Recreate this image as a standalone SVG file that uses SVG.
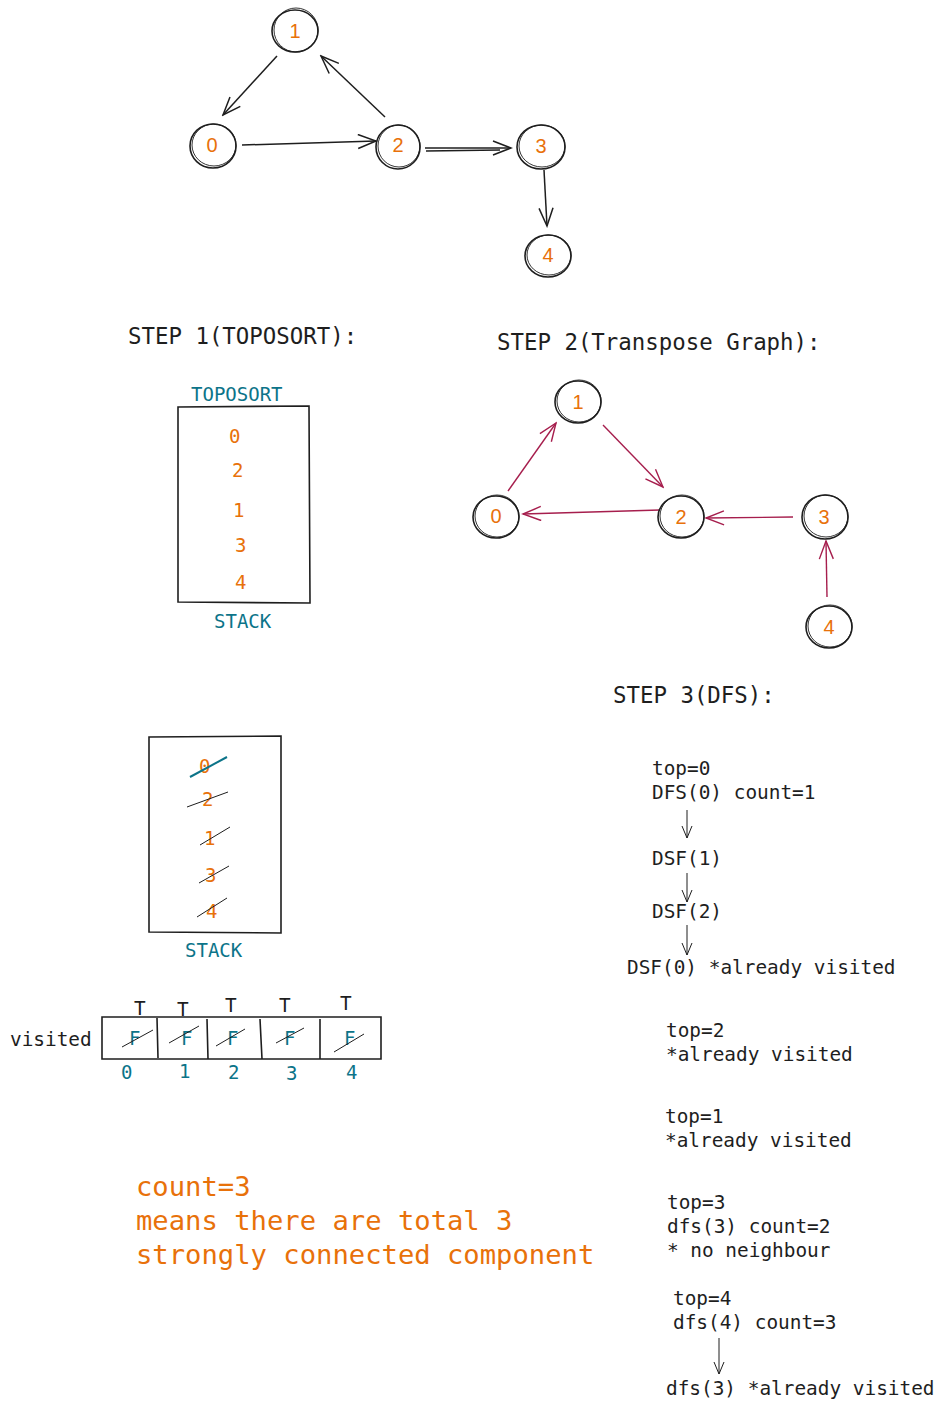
<svg xmlns="http://www.w3.org/2000/svg" width="947" height="1408" viewBox="0 0 947 1408">
<defs>
<style>
.n{fill:none;stroke:#1e1e1e;stroke-width:1.6}
.n2{fill:none;stroke:#1e1e1e;stroke-width:0.9}
.lbl{font-family:"Liberation Sans",sans-serif;font-size:20px;fill:#e8710a;text-anchor:middle}
.m{font-family:"DejaVu Sans Mono","Liberation Mono",monospace;font-size:19.4px;fill:#1e1e1e}
.h{font-family:"DejaVu Sans Mono","Liberation Mono",monospace;font-size:22.4px;fill:#1e1e1e}
.t{font-family:"DejaVu Sans Mono","Liberation Mono",monospace;font-size:19px;fill:#0c7489}
.o{font-family:"DejaVu Sans Mono","Liberation Mono",monospace;font-size:19px;fill:#e8710a}
.big{font-family:"DejaVu Sans Mono","Liberation Mono",monospace;font-size:27.2px;fill:#e8710a}
.e{fill:none;stroke:#1e1e1e;stroke-width:1.5}
.p{fill:none;stroke:#a61e4d;stroke-width:1.4}
.thin{fill:none;stroke:#1e1e1e;stroke-width:1}
.box{fill:none;stroke:#1e1e1e;stroke-width:1.6}
</style>
<marker id="ab" markerWidth="22" markerHeight="16" refX="20" refY="8" orient="auto" markerUnits="userSpaceOnUse"><path d="M2,1 L20,8 L2,15" fill="none" stroke="#1e1e1e" stroke-width="1.5"/></marker>
<marker id="ap" markerWidth="22" markerHeight="16" refX="20" refY="8" orient="auto" markerUnits="userSpaceOnUse"><path d="M2,1 L20,8 L2,15" fill="none" stroke="#a61e4d" stroke-width="1.4"/></marker>
<marker id="as" markerWidth="14" markerHeight="12" refX="13" refY="6" orient="auto" markerUnits="userSpaceOnUse"><path d="M1,1 L13,6 L1,11" fill="none" stroke="#1e1e1e" stroke-width="1"/></marker>
</defs>

<!-- Top graph -->
<g id="g1-connectors">
<path class="e" d="M277,56 L223,115" marker-end="url(#ab)"/>
<path class="e" d="M385,117 L321,56" marker-end="url(#ab)"/>
<path class="e" d="M242,145 L376,141" marker-end="url(#ab)"/>
<path class="e" d="M425,148 L511,148" marker-end="url(#ab)"/>
<path class="e" d="M426,151 L500,150"/>
<path class="e" d="M544,170 L547,226" marker-end="url(#ab)"/>
</g>
<g id="g1-n1"><ellipse class="n" cx="295" cy="31" rx="23" ry="21"/><ellipse class="n2" cx="296" cy="30" rx="22" ry="22"/><text class="lbl" x="295" y="38">1</text></g>
<g id="g1-n0"><ellipse class="n" cx="213" cy="146" rx="23" ry="22"/><ellipse class="n2" cx="214" cy="145" rx="22" ry="21"/><text class="lbl" x="212" y="152">0</text></g>
<g id="g1-n2"><ellipse class="n" cx="398" cy="147" rx="22" ry="22"/><ellipse class="n2" cx="399" cy="146" rx="21" ry="21"/><text class="lbl" x="398" y="152">2</text></g>
<g id="g1-n3"><ellipse class="n" cx="541" cy="147" rx="24" ry="22"/><ellipse class="n2" cx="542" cy="146" rx="23" ry="21"/><text class="lbl" x="541" y="153">3</text></g>
<g id="g1-n4"><ellipse class="n" cx="548" cy="256" rx="23" ry="21"/><ellipse class="n2" cx="549" cy="255" rx="22" ry="20"/><text class="lbl" x="548" y="262">4</text></g>

<!-- Step 1 -->
<text class="h" x="128" y="344">STEP 1(TOPOSORT):</text>
<g id="stack1">
<text class="t" x="191" y="401">TOPOSORT</text>
<path class="box" d="M178,407 L309,406 L310,603 L178,602 Z"/>
<text class="o" x="229" y="443">0</text>
<text class="o" x="232" y="477">2</text>
<text class="o" x="233" y="517">1</text>
<text class="o" x="235" y="552">3</text>
<text class="o" x="235" y="589">4</text>
<text class="t" x="214" y="628">STACK</text>
</g>

<!-- Step 2 -->
<text class="h" x="497" y="350">STEP 2(Transpose Graph):</text>
<g id="g2-connectors">
<path class="p" d="M508,491 L556,423" marker-end="url(#ap)"/>
<path class="p" d="M603,425 L663,487" marker-end="url(#ap)"/>
<path class="p" d="M660,510 L523,514" marker-end="url(#ap)"/>
<path class="p" d="M793,517 L706,518" marker-end="url(#ap)"/>
<path class="p" d="M827,597 L826,541" marker-end="url(#ap)"/>
</g>
<g id="g2-n1"><ellipse class="n" cx="578" cy="402" rx="23" ry="21"/><ellipse class="n2" cx="579" cy="401" rx="22" ry="21"/><text class="lbl" x="578" y="409">1</text></g>
<g id="g2-n0"><ellipse class="n" cx="496" cy="517" rx="23" ry="21"/><ellipse class="n2" cx="497" cy="516" rx="22" ry="21"/><text class="lbl" x="496" y="523">0</text></g>
<g id="g2-n2"><ellipse class="n" cx="681" cy="517" rx="23" ry="21"/><ellipse class="n2" cx="682" cy="516" rx="22" ry="21"/><text class="lbl" x="681" y="524">2</text></g>
<g id="g2-n3"><ellipse class="n" cx="825" cy="517" rx="23" ry="22"/><ellipse class="n2" cx="826" cy="516" rx="22" ry="21"/><text class="lbl" x="824" y="524">3</text></g>
<g id="g2-n4"><ellipse class="n" cx="829" cy="627" rx="23" ry="21"/><ellipse class="n2" cx="830" cy="626" rx="22" ry="21"/><text class="lbl" x="829" y="634">4</text></g>

<!-- Step 3 -->
<text class="h" x="613" y="703">STEP 3(DFS):</text>

<g id="stack2">
<path class="box" d="M149,737 L281,736 L281,933 L149,932 Z"/>
<text class="o" x="199" y="773">0</text>
<text class="o" x="202" y="806">2</text>
<text class="o" x="204" y="845">1</text>
<text class="o" x="205" y="882">3</text>
<text class="o" x="206" y="918">4</text>
<path d="M190,777 L227,757" stroke="#0c7489" stroke-width="2" fill="none"/>
<path class="thin" d="M187,807 L228,792"/>
<path class="thin" d="M200,845 L230,827"/>
<path class="thin" d="M199,883 L229,866"/>
<path class="thin" d="M197,917 L227,898"/>
<text class="t" x="185" y="957">STACK</text>
</g>

<g id="visited">
<text class="m" x="10" y="1046">visited</text>
<path class="box" d="M102,1017 L381,1017 L381,1059 L102,1059 Z"/>
<path class="box" d="M157,1018 L158,1058 M207,1019 L208,1059 M260,1019 L262,1059 M320,1019 L320,1059"/>
<text class="t" x="129" y="1045">F</text>
<text class="t" x="181" y="1045">F</text>
<text class="t" x="227" y="1045">F</text>
<text class="t" x="284" y="1045">F</text>
<text class="t" x="344" y="1045">F</text>
<path class="thin" d="M122,1047 L153,1030 M169,1043 L199,1026 M216,1046 L245,1029 M276,1043 L304,1028 M334,1052 L364,1034"/>
<text class="m" x="134" y="1015">T</text>
<text class="m" x="177" y="1016">T</text>
<text class="m" x="225" y="1012">T</text>
<text class="m" x="279" y="1012">T</text>
<text class="m" x="340" y="1010">T</text>
<text class="t" x="121" y="1079">0</text>
<text class="t" x="179" y="1078">1</text>
<text class="t" x="228" y="1079">2</text>
<text class="t" x="286" y="1080">3</text>
<text class="t" x="346" y="1079">4</text>
</g>

<g id="dfs-steps">
<text class="m" x="652" y="775">top=0</text>
<text class="m" x="652" y="799">DFS(0) count=1</text>
<text class="m" x="652" y="865">DSF(1)</text>
<text class="m" x="652" y="918">DSF(2)</text>
<text class="m" x="627" y="974">DSF(0) *already visited</text>
<text class="m" x="666" y="1037">top=2</text>
<text class="m" x="666" y="1061">*already visited</text>
<text class="m" x="665" y="1123">top=1</text>
<text class="m" x="665" y="1147">*already visited</text>
<text class="m" x="667" y="1209">top=3</text>
<text class="m" x="667" y="1233">dfs(3) count=2</text>
<text class="m" x="667" y="1257">* no neighbour</text>
<text class="m" x="673" y="1305">top=4</text>
<text class="m" x="673" y="1329">dfs(4) count=3</text>
<text class="m" x="666" y="1395">dfs(3) *already visited</text>
</g>
<g id="dfs-connectors">
<path class="thin" d="M687,810 L687,838" marker-end="url(#as)"/>
<path class="thin" d="M687,873 L687,902" marker-end="url(#as)"/>
<path class="thin" d="M687,925 L687,955" marker-end="url(#as)"/>
<path class="thin" d="M719,1338 L719,1374" marker-end="url(#as)"/>
</g>

<g id="summary">
<text class="big" x="136" y="1196">count=3</text>
<text class="big" x="136" y="1230">means there are total 3</text>
<text class="big" x="136" y="1264">strongly connected component</text>
</g>
</svg>
